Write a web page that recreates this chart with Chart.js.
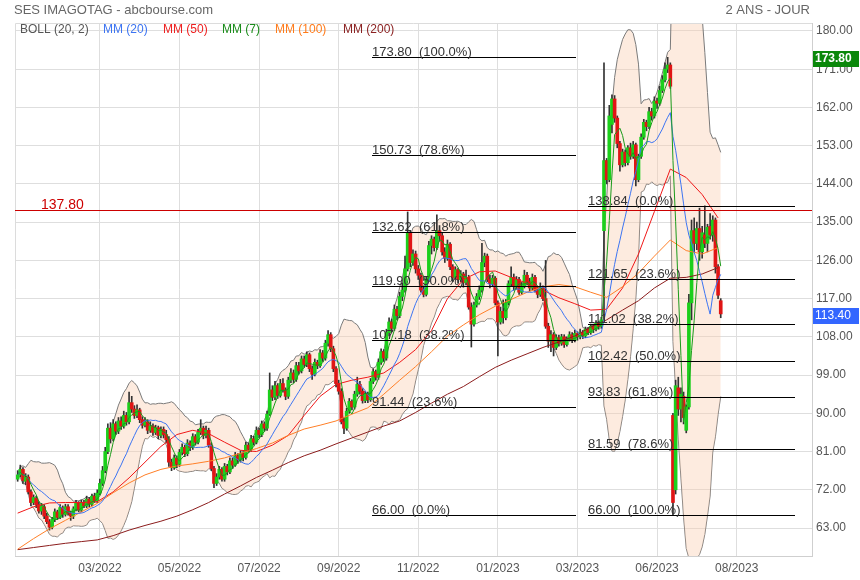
<!DOCTYPE html>
<html>
<head>
<meta charset="utf-8">
<title>SES IMAGOTAG</title>
<script src="https://cdn.jsdelivr.net/npm/chart.js@4/dist/chart.umd.min.js"></script>
<style>
  html, body { margin: 0; padding: 0; background: #fff; }
  canvas { display: block; }
</style>
</head>
<body>
<canvas id="chart" width="860" height="580"></canvas>
<script>
// candle index of the first candle (index 0 = first session of 03/2022)
const firstIdx = -31;

const opens = [
  74.5, 75.5, 76.8, 74, 75, 71.5, 69, 70, 68.5, 67,
  68, 65.8, 64.5, 63.2, 65, 66.8, 65.5, 67.8, 66.2, 68,
  66.5, 65.8, 67.5, 68.8, 67.2, 69, 68.2, 69.8, 68.6, 70.5,
  69.4, 71.2, 73.5, 76.5, 81, 86.5, 84, 87.5, 85.8, 88.2,
  87, 89.5, 88, 92.5, 91, 89.5, 90.8, 88.5, 87.2, 88,
  86, 87, 85.5, 86.6, 84.8, 86.2, 85, 83.8, 78.5, 77.2,
  79.5, 78, 80.8, 82, 80.5, 83, 82, 84.5, 83.2, 85.5,
  86.5, 84.8, 86, 82.5, 77, 73.5, 75, 76.8, 74.5, 77.5,
  76.2, 78.8, 77.8, 80, 79, 80.5, 79.6, 82.5, 81.5, 84,
  83.2, 86, 85, 87.5, 86.5, 89.8, 95.5, 93.8, 96.5, 94.2,
  97, 95.5, 94, 97.8, 99.5, 98, 101.2, 100, 102.8, 101.5,
  103.8, 100.5, 99.2, 102, 101.2, 104.2, 103, 106.5, 108.5, 105.2,
  100.5, 97, 95.2, 88, 86.5, 90.5, 92.8, 91.5, 94.5, 96.8,
  95.2, 93, 94.5, 93.2, 97.5, 99.8, 98.5, 102, 104.5, 103,
  109, 111.5, 110, 114.5, 113, 117.5, 119, 124, 132.4, 125.5,
  127.5, 124, 122.5, 119, 118, 121.5, 129.5, 131, 129, 133,
  131.8, 128, 126.5, 129.8, 124.5, 122, 123.8, 121.5, 122.8, 120.8,
  122, 115, 111, 115.5, 117.5, 119, 125.5, 127, 121.5, 120.5,
  121.8, 116, 111.5, 114, 112.5, 116, 120.5, 122, 119.8, 121.5,
  118.5, 120, 122.5, 121, 119.5, 122, 119, 118, 119.5, 117,
  110.5, 107, 108.5, 105.5, 107.8, 106.5, 108, 106.2, 107.5, 108.5,
  107.2, 108.8, 108, 109, 108.2, 109.8, 109, 110.5, 109.8, 111.2,
  110.5, 133, 149.5, 145, 158, 164, 159.5, 153.5, 148.5, 151.5,
  149, 152.5, 150.5, 153.2, 145, 150.5, 155, 158.5, 157.5, 161,
  160, 163.5, 163, 166, 168.5, 171, 172, 89.5, 72, 96,
  91, 94, 86, 91.5, 116, 133, 130, 133.5, 128, 132,
  130, 134, 132, 135.5, 124.5, 116.5
];

const highs = [
  76.5, 77.8, 77.2, 75.8, 75.5, 72, 70.8, 70.5, 69.2, 68.8,
  68.5, 66.5, 65, 65.5, 67.5, 67.2, 68.5, 68.2, 68.6, 68.5,
  67, 68, 69.5, 69.2, 69.6, 69.5, 70.5, 70.2, 71, 71.2,
  72, 74.5, 77.5, 82, 87.5, 87.8, 88.5, 88, 89, 89.2,
  90.5, 90.2, 95, 94, 91.8, 92, 91.2, 89.2, 89, 88.5,
  88, 87.5, 87.2, 87, 86.8, 86.8, 86, 84.5, 79.2, 80.2,
  80, 81.5, 82.8, 82.5, 83.8, 83.5, 85.2, 85, 86.2, 88.5,
  87, 87, 86.5, 83, 77.5, 75.8, 77.5, 77.2, 78.2, 78,
  79.5, 79.5, 80.8, 80.5, 81.2, 81, 83.2, 83, 84.8, 84.6,
  86.8, 86.5, 88.2, 88, 90.5, 99.5, 96.5, 97.5, 97, 98,
  98.2, 96, 98.5, 100.5, 100.2, 102, 102, 103.5, 103.5, 104.5,
  104.2, 101.2, 102.8, 102.5, 105, 104.8, 107.2, 109.5, 109, 105.8,
  101, 97.8, 95.8, 89, 91.2, 93.5, 93.2, 95.2, 98.5, 97.5,
  95.8, 95.2, 95, 98.2, 100.5, 100.2, 102.8, 105.2, 105, 109.8,
  112.5, 112.2, 115.5, 115.2, 118.5, 120.7, 127, 137.4, 133, 128.5,
  128.2, 124.8, 123, 120, 122.2, 130.5, 131.8, 131.5, 136.7, 134.2,
  132.5, 129, 130.8, 130.2, 125, 124.5, 124.2, 123.6, 123.2, 123.7,
  122.5, 116, 116.2, 118.2, 120, 130, 127.7, 127.5, 122.5, 122.5,
  122.2, 116.5, 115, 116.7, 116.8, 121.2, 124.5, 122.8, 122.2, 122,
  120.8, 123.7, 123.2, 121.8, 122.8, 122.5, 119.8, 120.7, 120, 126,
  111.2, 109.5, 109, 108.5, 108.4, 108.6, 108.5, 108, 109.2, 109,
  109.6, 109.2, 109.8, 109.5, 110.3, 110.2, 111, 111, 111.8, 111.6,
  112.6, 172.5, 150, 162.5, 165, 164.8, 160, 154, 152.2, 152,
  153, 153.6, 154, 153.6, 151, 155.8, 159.2, 159, 162, 161.8,
  164.5, 164.2, 167, 169.5, 172.5, 173.8, 172.5, 90, 97.8, 98.5,
  96, 95, 92, 118, 135.5, 136, 135, 138.3, 134, 138.84,
  134.5, 137, 136.5, 136, 125, 117
];

const lows = [
  74, 75, 73.5, 73.2, 71, 68.2, 68.5, 67.8, 66.5, 66.2,
  65.2, 64, 62.5, 62.8, 64.5, 65, 65.2, 65.5, 65.8, 66,
  64.8, 65.2, 67, 66.8, 66.8, 67.8, 67.8, 68, 68.2, 69,
  69, 70.8, 73, 76, 80.5, 83, 83.5, 85, 85.2, 86.2,
  86.5, 87.2, 87.5, 90.2, 88.8, 89, 87.8, 86.5, 86.8, 85.2,
  85.5, 84.8, 85, 84, 84.2, 84.2, 83, 77.5, 76.5, 76.8,
  77.2, 77.5, 80.2, 79.8, 80, 81.2, 81.5, 82.5, 82.8, 85,
  84, 84.2, 82, 76.5, 72.5, 73, 74.5, 74, 74, 75.5,
  75.8, 77, 77.5, 78.2, 78.5, 78.8, 79.2, 80.8, 81, 82.5,
  82.8, 84.2, 84.5, 85.8, 86, 89.5, 93, 93.2, 93.5, 93.8,
  95, 93.2, 93.5, 97.2, 97.2, 97.5, 99.2, 99.5, 100.8, 101,
  99.8, 98, 98.8, 100.5, 100.8, 102.2, 102.5, 105.8, 104.5, 99.8,
  96.2, 94.5, 87.5, 85.2, 86, 90, 90.8, 91, 94, 94.5,
  92.4, 92.5, 92.5, 92.8, 97, 97.8, 98, 101.5, 102.2, 102.5,
  108.2, 109.2, 109.5, 112, 112.5, 116.5, 118.5, 123.5, 124.5, 124.8,
  123, 121.5, 118.5, 117.4, 117.6, 121, 127.5, 128.2, 128.5, 130.5,
  127.2, 125.5, 126, 123.8, 121, 121.5, 120.7, 121, 119.7, 120.2,
  114.5, 105.6, 110.5, 115, 116.8, 118.5, 124.5, 121, 119.5, 119.8,
  115.5, 103.5, 111, 111.2, 112, 115.5, 120, 119, 119.2, 118,
  118, 119.5, 120.2, 118.8, 119, 118.5, 117.2, 117.5, 116.5, 110,
  105.5, 104.5, 103.5, 105, 105.8, 106, 105.5, 105.8, 107, 106.6,
  106.8, 107.2, 107.5, 107.6, 107.8, 108.5, 108.6, 109, 109.4, 109.8,
  110, 112, 144, 144.5, 156, 158.5, 152.5, 147, 148, 148.2,
  148.5, 149.8, 150, 143.5, 144.5, 150, 154.5, 156.5, 157, 159,
  159.5, 161.8, 162.5, 165.5, 168, 170.2, 166.5, 66, 71, 89.5,
  88, 87.5, 85.4, 91, 112, 128, 128.5, 126, 126.5, 129,
  128, 131, 130.5, 123, 117, 112.5
];

const closes = [
  75.5, 76.8, 74.2, 75, 71.5, 69, 70.2, 68.5, 67, 68.2,
  65.8, 64.5, 63.2, 65, 66.8, 65.5, 67.8, 66.2, 68, 66.5,
  65.8, 67.5, 68.8, 67.2, 69, 68.2, 69.8, 68.6, 70.5, 69.4,
  71.2, 73.5, 76.5, 81, 86.5, 84, 87.5, 85.8, 88.2, 87,
  89.5, 88, 92.5, 91, 89.5, 90.8, 88.5, 87.2, 88, 86,
  87, 85.5, 86.6, 84.8, 86.2, 85, 83.8, 78.5, 77.2, 79.5,
  78, 80.8, 82, 80.5, 83, 82, 84.5, 83.2, 85.5, 86.5,
  84.8, 86, 82.5, 77, 73.5, 75, 76.8, 74.5, 77.5, 76.2,
  78.8, 77.8, 80, 79, 80.5, 79.6, 82.5, 81.5, 84, 83.2,
  86, 85, 87.5, 86.5, 89.8, 95.5, 93.8, 96.5, 94.2, 97,
  95.5, 94, 97.8, 99.5, 98, 101.2, 100, 102.8, 101.5, 103.8,
  100.5, 99.2, 102, 101.2, 104.2, 103, 106.5, 108.5, 105.2, 100.5,
  97, 95.2, 88, 86.5, 90.5, 92.8, 91.5, 94.5, 96.8, 95.2,
  93, 94.5, 93.2, 97.5, 99.8, 98.5, 102, 104.5, 103, 109,
  111.5, 110, 114.5, 113, 117.5, 119, 124, 132.4, 125.5, 127.5,
  124, 122.5, 119, 118, 121.5, 129.5, 131, 129, 133, 131.8,
  128, 126.5, 129.8, 124.5, 122, 123.8, 121.5, 122.8, 120.8, 122,
  115, 111, 115.5, 117.5, 119, 125.5, 127, 121.5, 120.5, 121.8,
  116, 111.5, 114, 112.5, 116, 120.5, 122, 119.8, 121.5, 118.5,
  120, 122.5, 121, 119.5, 122, 119, 118, 119.5, 117, 110.5,
  107, 108.5, 105.5, 107.8, 106.5, 108, 106.2, 107.5, 108.5, 107.2,
  108.8, 108, 109, 108.2, 109.8, 109, 110.5, 109.8, 111.2, 110.5,
  112, 149.5, 145, 160, 164, 159.5, 153.5, 148.5, 151.5, 149,
  152.5, 150.5, 153.2, 145, 150.5, 155, 158.5, 157.5, 161, 160,
  163.5, 163, 166, 168.5, 171, 172, 167, 69, 96.5, 91,
  94.5, 89, 91.5, 116, 133, 130, 133.5, 128, 132.5, 130,
  133.8, 132, 135.5, 124.5, 117.8, 113.4
];

// long moving averages (they need history before the window)
const maIdx = [-31, -25, -19, -13, -7, -1, 5, 11, 17, 23, 29, 35, 41, 47, 53, 59, 65, 71, 77, 83,
  89, 95, 101, 107, 113, 119, 125, 131, 137, 143, 149, 155, 161, 167, 173, 179, 185, 191, 197, 203,
  209, 215, 221, 227, 233];
const mm50 = [66.5, 68.0, 68.9, 69.0, 69.0, 69.2, 71.5, 74.8, 78.5, 82.2, 85.0, 86.0, 85.2, 83.2, 81.3,
  81.0, 82.5, 84.8, 89.5, 94.0, 96.8, 97.8, 98.5, 99.5, 102.0, 105.0, 109.5, 117.0, 121.5, 123.3,
  123.5, 122.0, 120.6, 119.0, 117.2, 115.8, 114.3, 114.5, 119.5, 127.5, 137.5, 147.5, 145.5, 141.5, 136.0];
const mm100 = [58.0, 60.5, 62.8, 64.8, 66.8, 68.8, 71.3, 73.6, 75.5, 76.8, 77.6, 78.1, 78.7, 79.5, 80.6,
  81.7, 83.0, 84.8, 86.3, 87.2, 88.2, 89.8, 91.3, 94.5, 97.8, 101.0, 104.5, 108.2, 110.8, 113.2,
  115.2, 116.8, 118.5, 119.8, 120.3, 119.8, 118.5, 117.3, 119.8, 123.0, 127.0, 130.8, 128.3, 127.5, 129.0];
const mm200 = [57.9, 58.4, 58.9, 59.4, 59.8, 60.2, 61.2, 62.5, 63.6, 64.6, 65.8, 67.3, 69.0, 71.0, 72.9,
  74.9, 76.6, 78.4, 80.0, 81.3, 82.8, 84.2, 85.6, 87.0, 88.2, 90.2, 92.4, 94.5, 96.3, 98.6,
  100.8, 102.5, 104.0, 105.5, 106.8, 108.2, 110.3, 112.0, 114.3, 116.5, 119.5, 121.8, 122.0, 122.8, 124.3];

// axis ticks
const xTickIdx = [0, 30, 60, 90, 120, 150, 180, 210, 240];
const xTickLabels = ['03/2022', '05/2022', '07/2022', '09/2022', '11/2022', '01/2023', '03/2023', '06/2023', '08/2023'];
const yTicks = [63, 72, 81, 90, 99, 108, 117, 126, 135, 144, 153, 162, 171, 180];

// fibonacci retracements and markers
const fibLevelsA = [173.80, 150.73, 132.62, 119.90, 107.18, 91.44, 66.00];
const fibPctA = ['100.0%', '78.6%', '61.8%', '50.0%', '38.2%', '23.6%', '0.0%'];
const fibLevelsB = [138.84, 121.65, 111.02, 102.42, 93.83, 81.59, 66.00];
const fibPctB = ['0.0%', '23.6%', '38.2%', '50.0%', '61.8%', '78.6%', '100.0%'];
const fibSpanA = [102.5, 179.4];
const fibSpanB = [183.9, 262];
const resistance = 137.80;
const topPrice = 173.80;
const lastPrice = 113.40;

const FONT = 'Arial, "Liberation Sans", sans-serif';

// one candle here is ~1.33 sessions, so the short periods are scaled
const mm7Len = 5;
const mm20Len = 15;

function movingAvg(values, n) {
    return values.map((v, i) => {
        const win = values.slice(Math.max(0, i - n + 1), i + 1);
        return win.reduce((a, b) => a + b, 0) / win.length;
    });
}

function stdDev(values, n, means) {
    return values.map((v, i) => {
        const win = values.slice(Math.max(0, i - n + 1), i + 1);
        const m = means[i];
        return Math.sqrt(win.reduce((a, b) => a + (b - m) * (b - m), 0) / win.length);
    });
}

const sma7 = movingAvg(closes, mm7Len);
const sma20 = movingAvg(closes, mm20Len);
const sd20 = stdDev(closes, mm20Len, sma20);

const toPoints = arr => arr.map((v, j) => ({ x: firstIdx + j, y: v }));
const maPoints = arr => arr.map((v, j) => ({ x: maIdx[j], y: v }));

const upColor = '#1ccf1c';
const downColor = '#e01515';
const bodyColors = closes.map((c, j) => (c >= opens[j] ? upColor : downColor));

function lineSet(label, data, color, order) {
    return {
        type: 'line', label: label, data: data, borderColor: color, borderWidth: 1,
        pointRadius: 0, fill: false, tension: 0, order: order
    };
}

const overlay = {
    id: 'overlay',
    afterDatasetsDraw(chart) {
        const ctx = chart.ctx;
        const area = chart.chartArea;
        const xs = chart.scales.x;
        const ys = chart.scales.y;
        ctx.save();

        // left and top frame
        ctx.strokeStyle = '#dcdcdc';
        ctx.lineWidth = 1;
        ctx.beginPath();
        ctx.moveTo(area.left + 0.5, area.bottom);
        ctx.lineTo(area.left + 0.5, area.top + 0.5);
        ctx.lineTo(area.right, area.top + 0.5);
        ctx.stroke();

        // resistance line
        const yr = Math.round(ys.getPixelForValue(resistance)) + 0.5;
        ctx.strokeStyle = '#cc0000';
        ctx.beginPath();
        ctx.moveTo(area.left, yr);
        ctx.lineTo(area.right, yr);
        ctx.stroke();
        ctx.fillStyle = '#cc0000';
        ctx.font = '14px ' + FONT;
        ctx.textBaseline = 'alphabetic';
        ctx.textAlign = 'left';
        ctx.fillText(resistance.toFixed(2), area.left + 26, yr - 2);

        // fibonacci sets
        function drawFib(levels, pcts, span) {
            const x0 = Math.round(xs.getPixelForValue(span[0]));
            const x1 = Math.round(xs.getPixelForValue(span[1]));
            levels.forEach((lv, k) => {
                const yy = Math.round(ys.getPixelForValue(lv)) + 0.5;
                ctx.strokeStyle = '#000';
                ctx.lineWidth = 1.2;
                ctx.beginPath();
                ctx.moveTo(x0, yy);
                ctx.lineTo(x1, yy);
                ctx.stroke();
                ctx.fillStyle = '#333';
                ctx.font = '13px ' + FONT;
                ctx.fillText(lv.toFixed(2) + '  (' + pcts[k] + ')', x0, yy - 2);
            });
        }
        drawFib(fibLevelsA, fibPctA, fibSpanA);
        drawFib(fibLevelsB, fibPctB, fibSpanB);
        ctx.restore();
    },
    afterDraw(chart) {
        const ctx = chart.ctx;
        const area = chart.chartArea;
        const ys = chart.scales.y;
        ctx.save();

        // titles
        ctx.textBaseline = 'middle';
        ctx.font = '13px ' + FONT;
        ctx.fillStyle = '#666';
        ctx.textAlign = 'left';
        ctx.fillText('SES IMAGOTAG - abcbourse.com', 14, 10);
        ctx.textAlign = 'right';
        ctx.fillText('2 ANS - JOUR', 810, 10);

        // legend row
        const legend = [
            ['BOLL (20, 2)', '#555', 20],
            ['MM (20)', '#3c74f2', 103],
            ['MM (50)', '#ee2020', 163],
            ['MM (7)', '#1a8c1a', 222],
            ['MM (100)', '#ff7b1a', 275],
            ['MM (200)', '#8b2222', 343]
        ];
        ctx.textAlign = 'left';
        ctx.font = '12px ' + FONT;
        legend.forEach(item => {
            ctx.fillStyle = item[1];
            ctx.fillText(item[0], item[2], 30);
        });

        // price boxes on the axis
        function priceBox(value, color, bold) {
            const yy = Math.round(ys.getPixelForValue(value)) + 2;
            ctx.fillStyle = color;
            ctx.fillRect(area.right + 1, yy - 8, 46, 16);
            ctx.fillStyle = '#fff';
            ctx.font = (bold ? 'bold ' : '') + '12px ' + FONT;
            ctx.fillText(value.toFixed(2), area.right + 3, yy);
        }
        priceBox(topPrice, '#0a870a', true);
        priceBox(lastPrice, '#3366ff', false);
        ctx.restore();
    }
};

const ctx = document.getElementById('chart').getContext('2d');
const chart = new Chart(ctx, {
    type: 'line',
    data: {
        datasets: [
            {
                type: 'line', label: 'BOLL haut',
                data: toPoints(sma20.map((m, i) => m + 2 * sd20[i])),
                borderColor: '#7a7a7a', borderWidth: 1, pointRadius: 0, tension: 0,
                fill: '+1', backgroundColor: 'rgba(250, 205, 175, 0.4)', order: 10
            },
            {
                type: 'line', label: 'BOLL bas',
                data: toPoints(sma20.map((m, i) => m - 2 * sd20[i])),
                borderColor: '#7a7a7a', borderWidth: 1, pointRadius: 0, tension: 0,
                fill: false, order: 10
            },
            {
                type: 'bar', label: 'mèches',
                data: lows.map((l, j) => ({ x: firstIdx + j, y: [l, highs[j]] })),
                backgroundColor: '#333', barThickness: 1, grouped: false, order: 8
            },
            {
                type: 'bar', label: 'corps',
                data: opens.map((o, j) => ({ x: firstIdx + j, y: [o, closes[j]] })),
                backgroundColor: bodyColors, barThickness: 3, grouped: false, minBarLength: 1, order: 7
            },
            lineSet('MM (200)', maPoints(mm200), '#8b1c1c', 4),
            lineSet('MM (100)', maPoints(mm100), '#ff7f27', 3),
            lineSet('MM (50)', maPoints(mm50), '#f01818', 3),
            lineSet('MM (20)', toPoints(sma20), '#3c74f2', 2),
            lineSet('MM (7)', toPoints(sma7), '#1a9a1a', 1)
        ]
    },
    options: {
        responsive: false,
        animation: false,
        events: [],
        devicePixelRatio: 1,
        layout: { padding: { left: 15, top: 23, right: 0, bottom: 0 } },
        plugins: { legend: { display: false }, tooltip: { enabled: false } },
        scales: {
            x: {
                type: 'linear', min: -32, max: 268.4, offset: false,
                afterBuildTicks: s => { s.ticks = xTickIdx.map(v => ({ value: v })); },
                afterFit: s => { s.height = 24; },
                ticks: {
                    autoSkip: false, maxRotation: 0, padding: 5, color: '#555',
                    font: { family: FONT, size: 12 },
                    callback: v => xTickLabels[xTickIdx.indexOf(v)]
                },
                grid: { color: '#dedede', drawTicks: false, offset: false },
                border: { color: '#cfcfcf' }
            },
            y: {
                type: 'linear', position: 'right', min: 56.41, max: 181.88,
                afterBuildTicks: s => { s.ticks = yTicks.map(v => ({ value: v })); },
                afterFit: s => { s.width = 48; },
                ticks: {
                    padding: 4, color: '#555',
                    font: { family: FONT, size: 12 },
                    callback: v => Number(v).toFixed(2)
                },
                grid: { color: '#dedede', drawTicks: false },
                border: { color: '#cfcfcf' }
            }
        }
    },
    plugins: [overlay]
});
</script>
</body>
</html>
